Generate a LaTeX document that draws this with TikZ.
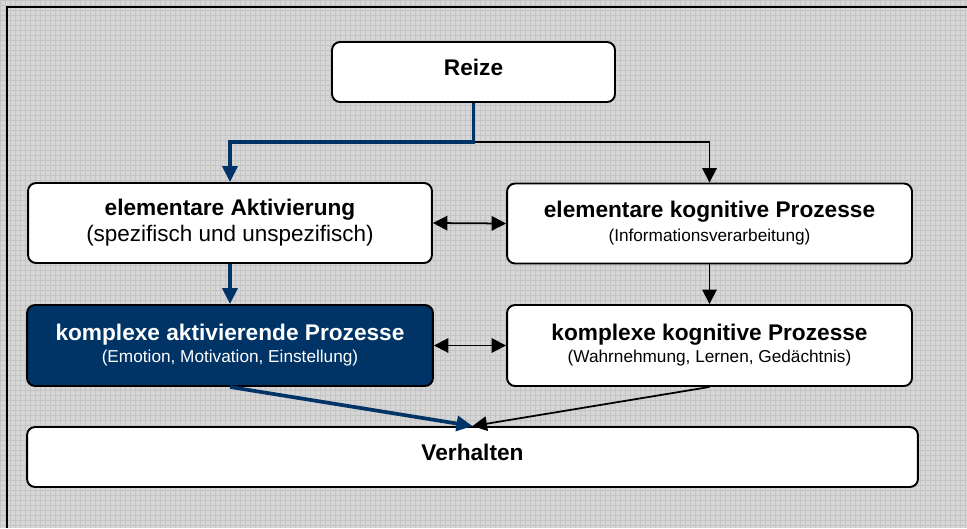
\documentclass[tikz,border=0pt]{standalone}
\usepackage{fontspec}
\setmainfont{Liberation Sans}
\usetikzlibrary{arrows.meta}

\definecolor{navy}{RGB}{0,51,102}
\definecolor{bggray}{RGB}{214,214,214}
\definecolor{gridgray}{RGB}{196,196,196}

\newcommand{\hdtxt}[1]{{\bfseries #1}}
\newcommand{\subbig}[1]{{\fontsize{12.8}{13}\selectfont #1}}
\newcommand{\subsmall}[1]{{\fontsize{9.8}{11}\selectfont #1}}

\tikzset{
  box/.style={draw=black,line width=1.1pt,rounded corners=0.16cm,fill=white,align=center,inner sep=0pt},
  darkbox/.style={box,fill=navy,text=white},
  lines/.style={font=\fontsize{12.9}{#1}\selectfont},
  ntip/.tip={Triangle[length=0.29cm,width=0.29cm]},
  btip/.tip={Triangle[length=0.32cm,width=0.3cm]},
  bluearrow/.style={draw=navy,line width=2.1pt,-btip},
  blackarrow/.style={draw=black,line width=1pt,-ntip},
  twoway/.style={draw=black,line width=1pt,ntip-ntip}
}

\begin{document}
\begin{tikzpicture}[x=0.02cm,y=-0.02cm]
						\useasboundingbox (0,0) rectangle (967,528);
						% background
						\fill[bggray] (0,0) rectangle (967,528);
						\draw[gridgray,very thin,step=0.1cm] (0,0) grid (967,528);
						\draw[line width=1.2pt] (7,528) -- (7,7) -- (967,7);

						\node[box,lines=15pt,text depth=5.6pt,minimum width=5.66cm,minimum height=1.2cm] (rz) at (473.5,72) {\hdtxt{Reize}};
						\node[box,lines=14.7pt,minimum width=8.08cm,minimum height=1.6cm] (ea) at (230,223) {\hdtxt{elementare Aktivierung}\\\subbig{(spezifisch und unspezifisch)}};
						\node[box,lines=13.6pt,minimum width=8.1cm,minimum height=1.6cm] (ek) at (709.5,223.5) {\hdtxt{elementare kognitive Prozesse}\\\subsmall{(Informationsverarbeitung)}};
						\node[darkbox,lines=12.5pt,minimum width=8.12cm,minimum height=1.62cm] (ka) at (230,345.5) {\hdtxt{komplexe aktivierende Prozesse}\\\subsmall{(Emotion, Motivation, Einstellung)}};
						\node[box,lines=12.5pt,minimum width=8.1cm,minimum height=1.62cm] (kk) at (709.5,345.5) {\hdtxt{komplexe kognitive Prozesse}\\\subsmall{(Wahrnehmung, Lernen, Gedächtnis)}};
						\node[box,lines=15pt,text depth=5.6pt,minimum width=17.82cm,minimum height=1.2cm] (vh) at (472.5,457) {\hdtxt{Verhalten}};

						\coordinate (split) at (473.5,142);

						\draw[blackarrow] (split) -| (ek.north);
						\draw[bluearrow] (rz.south) -- (split) -| (ea.north);
						\draw[twoway] (ea.east) -- (ek.west);
						\draw[bluearrow] (ea.south) -- (ka.north);
						\draw[blackarrow] (ek.south) -- (kk.north);
						\draw[twoway] (ka.east) -- (kk.west);
						\draw[blackarrow] (kk.south) -- (vh.north);
						\draw[bluearrow] (ka.south) -- (vh.north);
					\end{tikzpicture}
\end{document}
